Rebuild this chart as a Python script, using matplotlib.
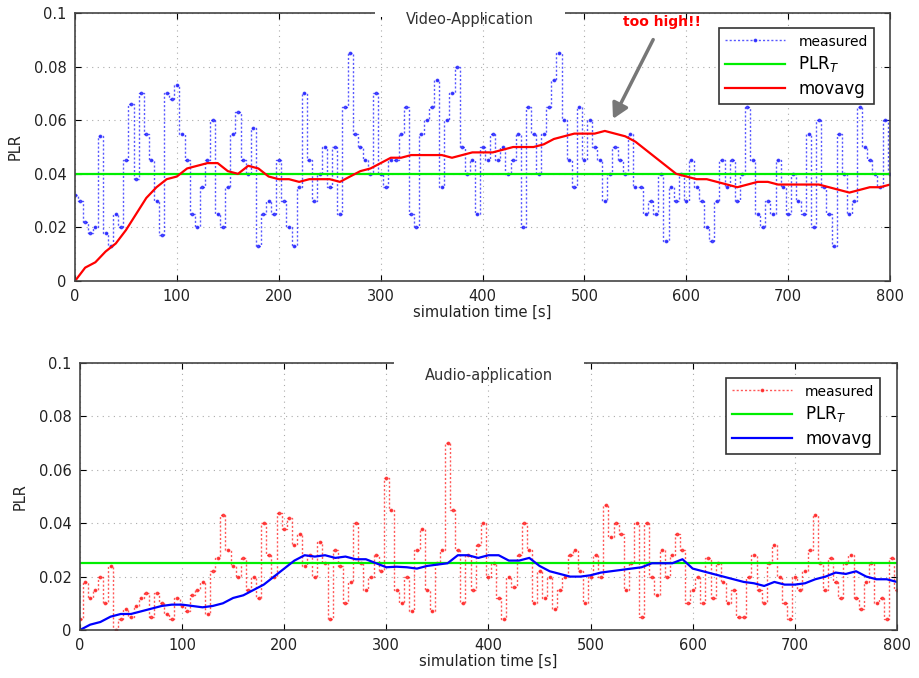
import numpy as np
import matplotlib.pyplot as plt
from matplotlib.patches import Rectangle

# measured PLR, one value every 5 s (0..800)
t_meas = np.arange(0, 805, 5)
video_meas = [0.032, 0.030, 0.022, 0.018, 0.020, 0.054, 0.018, 0.013, 0.025, 0.020,
              0.045, 0.066, 0.038, 0.070, 0.055, 0.045, 0.030, 0.017, 0.070, 0.068,
              0.073, 0.055, 0.045, 0.025, 0.020, 0.035, 0.045, 0.060, 0.025, 0.020,
              0.035, 0.055, 0.063, 0.045, 0.040, 0.057, 0.013, 0.025, 0.030, 0.025,
              0.045, 0.030, 0.020, 0.013, 0.035, 0.070, 0.045, 0.030, 0.040, 0.050,
              0.035, 0.050, 0.025, 0.065, 0.085, 0.055, 0.050, 0.045, 0.040, 0.070,
              0.040, 0.035, 0.045, 0.045, 0.055, 0.065, 0.025, 0.020, 0.055, 0.060,
              0.065, 0.075, 0.035, 0.060, 0.070, 0.080, 0.050, 0.040, 0.045, 0.025,
              0.050, 0.045, 0.055, 0.045, 0.050, 0.040, 0.045, 0.055, 0.020, 0.065,
              0.055, 0.040, 0.055, 0.065, 0.075, 0.085, 0.060, 0.045, 0.035, 0.065,
              0.045, 0.060, 0.050, 0.045, 0.030, 0.040, 0.050, 0.045, 0.040, 0.055,
              0.035, 0.035, 0.025, 0.030, 0.025, 0.040, 0.015, 0.035, 0.030, 0.040,
              0.030, 0.045, 0.035, 0.030, 0.020, 0.015, 0.030, 0.045, 0.035, 0.045,
              0.030, 0.040, 0.065, 0.045, 0.025, 0.020, 0.030, 0.025, 0.045, 0.035,
              0.025, 0.040, 0.030, 0.025, 0.055, 0.020, 0.060, 0.035, 0.025, 0.013,
              0.055, 0.040, 0.025, 0.030, 0.065, 0.050, 0.045, 0.040, 0.035, 0.060,
              0.040]
audio_meas = [0.004, 0.018, 0.012, 0.015, 0.020, 0.010, 0.024, 0.000, 0.004, 0.008,
              0.005, 0.009, 0.012, 0.014, 0.005, 0.014, 0.010, 0.006, 0.004, 0.012,
              0.009, 0.007, 0.013, 0.015, 0.018, 0.006, 0.022, 0.027, 0.043, 0.030,
              0.024, 0.020, 0.027, 0.015, 0.020, 0.012, 0.040, 0.028, 0.020, 0.044,
              0.038, 0.042, 0.032, 0.036, 0.024, 0.028, 0.020, 0.033, 0.025, 0.004,
              0.030, 0.024, 0.010, 0.018, 0.040, 0.025, 0.015, 0.020, 0.028, 0.022,
              0.057, 0.045, 0.015, 0.010, 0.020, 0.007, 0.030, 0.038, 0.015, 0.007,
              0.025, 0.030, 0.070, 0.045, 0.030, 0.010, 0.028, 0.015, 0.032, 0.040,
              0.020, 0.025, 0.012, 0.004, 0.020, 0.016, 0.028, 0.040, 0.030, 0.010,
              0.022, 0.012, 0.020, 0.008, 0.015, 0.020, 0.028, 0.030, 0.022, 0.010,
              0.020, 0.028, 0.020, 0.047, 0.035, 0.040, 0.036, 0.015, 0.025, 0.040,
              0.005, 0.040, 0.020, 0.013, 0.030, 0.020, 0.028, 0.036, 0.030, 0.010,
              0.015, 0.020, 0.010, 0.027, 0.012, 0.025, 0.018, 0.010, 0.015, 0.005,
              0.005, 0.020, 0.028, 0.015, 0.010, 0.025, 0.032, 0.020, 0.010, 0.004,
              0.020, 0.015, 0.022, 0.030, 0.043, 0.025, 0.015, 0.027, 0.018, 0.012,
              0.025, 0.028, 0.012, 0.008, 0.018, 0.025, 0.010, 0.012, 0.004, 0.027,
              0.015]

# moving average, one value every 10 s
t_avg = np.arange(0, 810, 10)
video_avg = [0, 0.005, 0.007, 0.011, 0.014, 0.019, 0.025, 0.031, 0.035, 0.038,
             0.039, 0.042, 0.043, 0.044, 0.044, 0.041, 0.040, 0.043, 0.042, 0.039,
             0.038, 0.038, 0.037, 0.038, 0.038, 0.038, 0.037, 0.039, 0.041, 0.042,
             0.044, 0.046, 0.046, 0.047, 0.047, 0.047, 0.047, 0.046, 0.047, 0.048,
             0.048, 0.048, 0.049, 0.050, 0.050, 0.050, 0.051, 0.053, 0.054, 0.055,
             0.055, 0.055, 0.056, 0.055, 0.054, 0.052, 0.049, 0.046, 0.043, 0.040,
             0.039, 0.038, 0.038, 0.037, 0.036, 0.035, 0.036, 0.037, 0.037, 0.036,
             0.036, 0.036, 0.036, 0.036, 0.035, 0.034, 0.033, 0.034, 0.035, 0.035,
             0.036]
audio_avg = [0, 0.002, 0.003, 0.005, 0.006, 0.006, 0.007, 0.008, 0.009, 0.0095,
             0.0095, 0.009, 0.0085, 0.009, 0.010, 0.012, 0.013, 0.015, 0.017, 0.020,
             0.023, 0.026, 0.028, 0.0275, 0.028, 0.027, 0.0275, 0.0265, 0.0265, 0.025,
             0.0235, 0.0237, 0.0235, 0.023, 0.024, 0.0245, 0.025, 0.028, 0.028, 0.027,
             0.028, 0.028, 0.026, 0.026, 0.027, 0.024, 0.022, 0.021, 0.020, 0.020,
             0.0205, 0.0215, 0.022, 0.0225, 0.023, 0.0235, 0.025, 0.025, 0.025, 0.0265,
             0.023, 0.022, 0.021, 0.020, 0.019, 0.018, 0.0175, 0.0165, 0.018, 0.017,
             0.017, 0.0175, 0.019, 0.020, 0.0215, 0.021, 0.022, 0.020, 0.019, 0.019,
             0.018]

plr_video = 0.04
plr_audio = 0.025

fig = plt.figure(figsize=(9.19, 6.78), dpi=100)
ax1 = fig.add_axes([0.0816, 0.5855, 0.887, 0.3953])
ax2 = fig.add_axes([0.087, 0.0708, 0.889, 0.3938])

def setup(ax, title, ty, gap):
    ax.set_xlim(0, 800)
    ax.set_ylim(0, 0.1)
    ax.set_xticks(np.arange(0, 801, 100))
    ax.set_yticks([0, 0.02, 0.04, 0.06, 0.08, 0.1])
    ax.set_yticklabels(["0", "0.02", "0.04", "0.06", "0.08", "0.1"])
    ax.grid(True, ls=(0, (1, 4)), color="#aaaaaa", lw=0.8)
    ax.tick_params(direction="in", top=True, right=True, labelsize=10.5,
                   labelcolor="#222222", length=4, pad=6)
    for s in ax.spines.values():
        s.set_color("#444444")
        s.set_linewidth(1.2)
    ax.set_xlabel("simulation time [s]", fontsize=10.5, labelpad=0, color="#222222")
    ax.set_ylabel("PLR", fontsize=10.5, labelpad=8, color="#222222")
    ax.add_patch(Rectangle((gap[0], 0.985), gap[1] - gap[0], 0.03, transform=ax.transAxes,
                           facecolor="white", edgecolor="none", clip_on=False, zorder=4))
    ax.text(0.5 * (gap[0] + gap[1]), ty, title, transform=ax.transAxes, ha="center",
            va="center", fontsize=10.5, color="#333333", zorder=5)

setup(ax1, "Video-Application", 0.975, (0.368, 0.601))
setup(ax2, "Audio-application", 0.955, (0.384, 0.617))

ax1.plot(t_meas, video_meas, ls=(0, (1.5, 1.5)), lw=1.0, marker=".", ms=3.5,
         drawstyle="steps-mid", color="#2020ff", alpha=0.75, label="measured")
ax1.axhline(plr_video, color="#00ee00", lw=1.6, label="PLR$_T$")
ax1.plot(t_avg, video_avg, color="#ff0000", lw=1.6, label="movavg")

ax2.plot(t_meas, audio_meas, ls=(0, (1.5, 1.5)), lw=1.0, marker=".", ms=3.5,
         drawstyle="steps-mid", color="#ff2020", alpha=0.75, label="measured")
ax2.axhline(plr_audio, color="#00ee00", lw=1.6, label="PLR$_T$")
ax2.plot(t_avg, audio_avg, color="#0000ff", lw=1.6, label="movavg")

for ax in (ax1, ax2):
    leg = ax.legend(loc="upper right", bbox_to_anchor=(0.99, 0.975), fontsize=12,
                    fancybox=False, edgecolor="#333333", handlelength=3.6,
                    borderpad=0.35, labelspacing=0.35, framealpha=1)
    leg.get_frame().set_linewidth(1.2)
    leg.get_texts()[0].set_fontsize(10)

ax1.annotate("too high!!", xy=(528, 0.0605), xytext=(576, 0.0965), ha="center",
             va="center", color="red", fontsize=10, fontweight="bold",
             arrowprops=dict(arrowstyle="-|>,head_width=0.5,head_length=0.9",
                             color="#777777", lw=2.5, shrinkA=6, shrinkB=0))

fig.savefig("out.png", dpi=100)
